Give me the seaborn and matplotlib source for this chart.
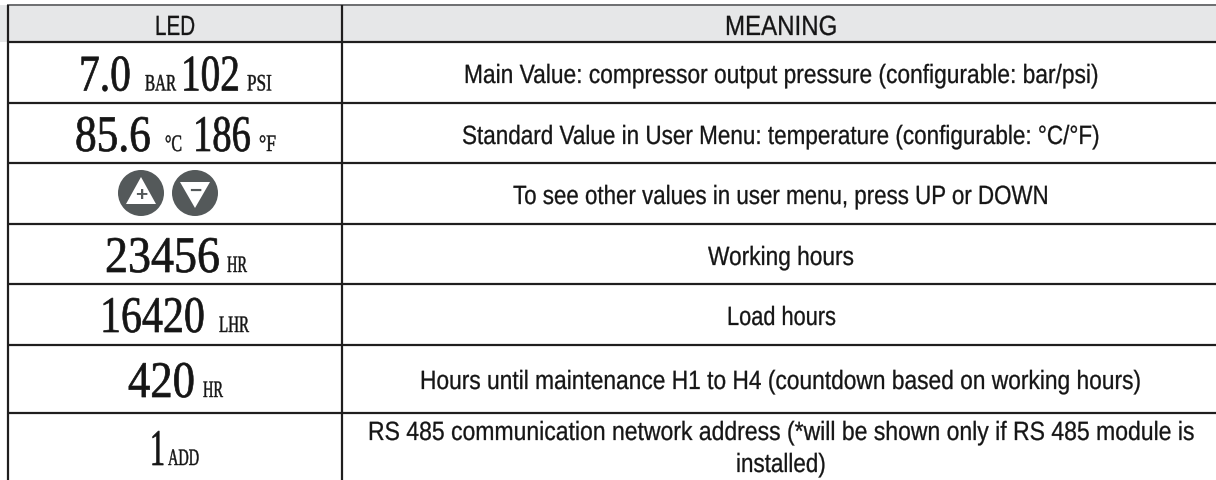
import matplotlib
matplotlib.use("Agg")
import matplotlib.pyplot as plt
import seaborn as sns
from matplotlib.patches import Circle, Polygon
from matplotlib.patheffects import AbstractPathEffect
from matplotlib.transforms import Affine2D

# ---- content ----
headers = ["LED", "MEANING"]
meanings = [
    "Main Value: compressor output pressure (configurable: bar/psi)",
    "Standard Value in User Menu: temperature (configurable: °C/°F)",
    "To see other values in user menu, press UP or DOWN",
    "Working hours",
    "Load hours",
    "Hours until maintenance H1 to H4 (countdown based on working hours)",
    "RS 485 communication network address (*will be shown only if RS 485 module is",
    "installed)",
]
led_values = ["7.0", "102", "85.6", "186", "23456", "16420", "420", "1"]
led_units = ["BAR", "PSI", "°C", "°F", "HR", "LHR", "HR", "ADD"]

# ---- layout, in figure pixels ----
W, H = 1216, 481
row_lines = [43.3, 104.2, 164.3, 225, 284.7, 346, 414]
top_line = 5.7
col_lines = [8.3, 341.5]
header_spans = [(155, 195), (725, 837)]
meaning_spans = [(464, 1099), (462, 1100), (513, 1049), (708, 854), (727, 836),
                 (420, 1142), (368, 1195), (736, 826)]
meaning_base = [84, 145, 205, 266, 326, 390, 441, 473]
value_spans = [(79, 131), (181, 240), (75, 151), (193, 251), (105, 220), (100, 205), (128, 195), (150, 165)]
value_base = [91.5, 91.5, 152, 152, 273, 333, 398, 466]
unit_spans = [(145, 176), (247, 272), (165, 182), (259, 276), (227, 247), (219, 249), (203, 223), (168, 199)]

LINE = "#1f1e1e"
INK = "#151515"
ICON = "#54595a"
HEAD = "#e6e7e8"

sns.set_theme(style="white")


class Stretch(AbstractPathEffect):
    """Stretch a real text object vertically from its baseline and thicken it a little."""

    def __init__(self, sy, lw):
        super().__init__()
        self.sy = sy
        self.lw = lw

    def draw_path(self, renderer, gc, tpath, affine, rgbFace=None):
        gc0 = renderer.new_gc()
        gc0.copy_properties(gc)
        gc0.set_linewidth(self.lw)
        gc0.set_foreground(INK)
        renderer.draw_path(gc0, tpath, Affine2D().scale(1, self.sy) + affine, rgbFace)
        gc0.restore()


fig = plt.figure(figsize=(W / 100, H / 100), dpi=100, facecolor="white")

# header band through seaborn
hax = fig.add_axes([0, 1 - row_lines[0] / H, 1, (row_lines[0] - top_line) / H])
sns.heatmap([[0]], ax=hax, cmap=sns.color_palette([HEAD]), cbar=False, xticklabels=False, yticklabels=False)

ax = fig.add_axes([0, 0, 1, 1], facecolor="none")
ax.set_xlim(0, W)
ax.set_ylim(H, 0)
ax.axis("off")

ax.hlines(top_line, col_lines[0] - 1, W, color="#6d6e70", lw=1.4)
ax.hlines(row_lines, col_lines[0] - 1, W, color=LINE, lw=1.6)
ax.vlines(col_lines, top_line, H, color=LINE, lw=1.6)

renderer = fig.canvas.get_renderer()


def fit_text(s, span, base, family, size, weight="normal", lw=0.0):
    # the font size is set so the natural width fills the span; the height is restored by the effect
    t = ax.text(span[0], base, s, family=family, fontsize=size, weight=weight, color=INK,
                ha="left", va="baseline")
    sx = (span[1] - span[0]) / t.get_window_extent(renderer).width
    t.set_fontsize(size * sx)
    t.set_path_effects([Stretch(1 / sx, lw)])
    return t


SANS = ["Liberation Sans", "DejaVu Sans"]
SERIF = ["Liberation Serif", "DejaVu Serif"]

for s, span in zip(headers, header_spans):
    fit_text(s, span, 36, SANS, 20, lw=0.2)
for s, span, b in zip(meanings, meaning_spans, meaning_base):
    fit_text(s, span, b, SANS, 19, lw=0.2)
for s, span, b in zip(led_values, value_spans, value_base):
    fit_text(s, span, b, SERIF, 37, lw=0.5)
for s, span, b in zip(led_units, unit_spans, value_base):
    fit_text(s, span, b, SERIF, 17, lw=0.3)

# UP / DOWN buttons
for cx, cy, tri, sign in [(141, 194, [(141, 178), (126, 205), (156, 205)], "+"),
                          (195, 194, [(195, 209), (180, 183), (210, 183)], "\u2212")]:
    ax.add_patch(Circle((cx, cy), 23, color=ICON, lw=0))
    ax.add_patch(Polygon(tri, closed=True, color="white", lw=0))
    ax.text(cx, 196 if sign == "+" else 191, sign, ha="center", va="center", fontsize=15,
            family="Liberation Sans", weight="bold", color=ICON)

fig.savefig("out.png", dpi=100)
